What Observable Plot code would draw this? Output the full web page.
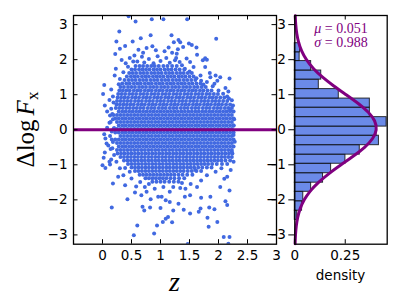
<!DOCTYPE html>
<html><head><meta charset="utf-8">
<script src="https://cdn.jsdelivr.net/npm/d3@7"></script>
<script src="https://cdn.jsdelivr.net/npm/@observablehq/plot@0.6"></script>
<style>
html,body{margin:0;padding:0;background:#fff;}
#wrap{position:relative;width:407px;height:305px;overflow:hidden;background:#fff;}
</style></head><body><div id="wrap"></div>
<script>
// ---------- data ----------
const xTicks = [0, 0.5, 1, 1.5, 2, 2.5, 3];
const xTickLabels = ["0", "0.5", "1", "1.5", "2", "2.5", "3"];
const yTicks = [-3, -2, -1, 0, 1, 2, 3];
const yTickLabels = ["\u22123", "\u22122", "\u22121", "0", "1", "2", "3"];
const densityTicks = [0, 0.25];
const densityTickLabels = ["0", "0.25"];
const fitMu = "0.051";
const fitSigma = "0.988";

// histogram bins (lower/upper edge in ΔlogF_x) and density
const binLo = [-2.57,-2.31,-2.04,-1.77,-1.51,-1.24,-0.97,-0.71,-0.44,-0.17,0.09,0.36,0.63,0.89,1.16,1.43,1.69,1.96,2.21];
const binHi = [-2.31,-2.04,-1.77,-1.51,-1.24,-0.97,-0.71,-0.44,-0.17,0.09,0.36,0.63,0.89,1.16,1.43,1.69,1.96,2.21,2.47];
const binDensity = [0.012,0.036,0.042,0.081,0.140,0.180,0.251,0.322,0.417,0.405,0.455,0.372,0.372,0.218,0.119,0.131,0.081,0.024,0.026];

// fitted gaussian curve: [ΔlogF_x, density]
const fitCurve = [[-3.25,0.0015],[-3.0,0.0034],[-2.75,0.0073],[-2.5,0.0144],[-2.25,0.0268],[-2.0,0.0468],[-1.75,0.0766],[-1.5,0.1178],[-1.25,0.1697],[-1.0,0.2293],[-0.75,0.2906],[-0.5,0.3457],[-0.25,0.3855],[0,0.4033],[0.25,0.3957],[0.5,0.3642],[0.75,0.3144],[1.0,0.2546],[1.25,0.1933],[1.5,0.1377],[1.75,0.0921],[2.0,0.0577],[2.25,0.0339],[2.5,0.0187],[2.75,0.0097],[3.0,0.0047],[3.25,0.0021]];

// dense core of the scatter: rows of [ΔlogF_x, [z, ...]]
const denseRows = [
[1.82,[0.57,0.64,0.70,0.77,0.84,0.90,0.97,1.05,1.12,1.20,1.28]],
[1.72,[0.50,0.56,0.63,0.69,0.75,0.81,0.88,0.94,1.00,1.07,1.13,1.19,1.26,1.33,1.41]],
[1.62,[0.46,0.52,0.58,0.65,0.71,0.77,0.84,0.90,0.96,1.02,1.09,1.15,1.21,1.28,1.34,1.40,1.47,1.54]],
[1.52,[0.42,0.49,0.55,0.61,0.68,0.74,0.80,0.87,0.93,0.99,1.05,1.12,1.18,1.24,1.31,1.37,1.43,1.50,1.57]],
[1.42,[0.38,0.45,0.51,0.57,0.64,0.70,0.76,0.83,0.89,0.95,1.02,1.08,1.14,1.21,1.27,1.33,1.40,1.46,1.53,1.60]],
[1.32,[0.34,0.41,0.47,0.54,0.60,0.66,0.73,0.79,0.85,0.92,0.98,1.04,1.11,1.17,1.23,1.30,1.36,1.42,1.49,1.55,1.62,1.69]],
[1.22,[0.31,0.37,0.44,0.50,0.56,0.63,0.69,0.75,0.82,0.88,0.94,1.01,1.07,1.13,1.20,1.26,1.32,1.39,1.45,1.51,1.58,1.64,1.71,1.78]],
[1.12,[0.29,0.35,0.41,0.47,0.54,0.60,0.66,0.73,0.79,0.85,0.92,0.98,1.04,1.11,1.17,1.23,1.30,1.36,1.42,1.49,1.55,1.61,1.68,1.74,1.81,1.88]],
[1.02,[0.27,0.33,0.39,0.46,0.52,0.58,0.65,0.71,0.77,0.84,0.90,0.96,1.03,1.09,1.15,1.22,1.28,1.34,1.41,1.47,1.53,1.60,1.66,1.72,1.79,1.85,1.92,1.99]],
[0.92,[0.26,0.32,0.38,0.44,0.51,0.57,0.63,0.70,0.76,0.82,0.89,0.95,1.01,1.08,1.14,1.20,1.27,1.33,1.39,1.46,1.52,1.58,1.65,1.71,1.77,1.84,1.90,1.96,2.03,2.10]],
[0.82,[0.25,0.31,0.37,0.43,0.49,0.56,0.62,0.68,0.75,0.81,0.87,0.94,1.00,1.06,1.13,1.19,1.25,1.32,1.38,1.44,1.51,1.57,1.63,1.70,1.76,1.82,1.89,1.95,2.01,2.08,2.15]],
[0.72,[0.24,0.30,0.36,0.42,0.48,0.54,0.61,0.67,0.73,0.80,0.86,0.92,0.99,1.05,1.11,1.18,1.24,1.30,1.37,1.43,1.49,1.56,1.62,1.68,1.75,1.81,1.87,1.94,2.00,2.06,2.13,2.20]],
[0.62,[0.23,0.29,0.35,0.41,0.47,0.53,0.59,0.65,0.71,0.78,0.84,0.90,0.97,1.03,1.09,1.16,1.22,1.28,1.35,1.41,1.47,1.54,1.60,1.66,1.73,1.79,1.85,1.92,1.98,2.04,2.11,2.17,2.23]],
[0.52,[0.28,0.34,0.40,0.46,0.52,0.58,0.64,0.70,0.76,0.82,0.88,0.94,1.00,1.06,1.12,1.18,1.24,1.30,1.36,1.42,1.48,1.54,1.60,1.66,1.72,1.78,1.84,1.90,1.96,2.02,2.08,2.14,2.20,2.26]],
[0.42,[0.19,0.25,0.31,0.37,0.43,0.49,0.55,0.61,0.67,0.73,0.79,0.85,0.91,0.97,1.03,1.09,1.15,1.21,1.27,1.33,1.39,1.45,1.51,1.57,1.63,1.69,1.75,1.81,1.87,1.93,1.99,2.05,2.11,2.17,2.23]],
[0.32,[0.22,0.28,0.34,0.40,0.46,0.52,0.58,0.64,0.70,0.76,0.82,0.88,0.94,1.00,1.06,1.12,1.18,1.24,1.30,1.36,1.42,1.48,1.54,1.60,1.66,1.72,1.78,1.84,1.90,1.96,2.02,2.08,2.14,2.20,2.26]],
[0.22,[0.25,0.31,0.37,0.43,0.49,0.55,0.61,0.67,0.73,0.79,0.85,0.91,0.97,1.03,1.09,1.15,1.21,1.27,1.33,1.39,1.45,1.51,1.57,1.63,1.69,1.75,1.81,1.87,1.93,1.99,2.05,2.11,2.17,2.23]],
[0.12,[0.28,0.34,0.40,0.46,0.52,0.58,0.64,0.70,0.76,0.82,0.88,0.94,1.00,1.06,1.12,1.18,1.24,1.30,1.36,1.42,1.48,1.54,1.60,1.66,1.72,1.78,1.84,1.90,1.96,2.02,2.08,2.14,2.20,2.26]],
[0.02,[0.19,0.25,0.31,0.37,0.43,0.49,0.55,0.61,0.67,0.73,0.79,0.85,0.91,0.97,1.03,1.09,1.15,1.21,1.27,1.33,1.39,1.45,1.51,1.57,1.63,1.69,1.75,1.81,1.87,1.93,1.99,2.05,2.11,2.17,2.23]],
[-0.08,[0.22,0.28,0.34,0.40,0.46,0.52,0.58,0.64,0.70,0.76,0.82,0.88,0.94,1.00,1.06,1.12,1.18,1.24,1.30,1.36,1.42,1.48,1.54,1.60,1.66,1.72,1.78,1.84,1.90,1.96,2.02,2.08,2.14,2.20,2.26]],
[-0.18,[0.31,0.37,0.43,0.49,0.55,0.61,0.67,0.73,0.79,0.85,0.91,0.97,1.03,1.09,1.15,1.21,1.27,1.33,1.39,1.45,1.51,1.57,1.63,1.69,1.75,1.81,1.87,1.93,1.99,2.05,2.11,2.17,2.23]],
[-0.28,[0.16,0.22,0.28,0.34,0.40,0.46,0.52,0.58,0.64,0.70,0.76,0.82,0.88,0.94,1.00,1.06,1.12,1.18,1.24,1.30,1.36,1.42,1.48,1.54,1.60,1.66,1.72,1.78,1.84,1.90,1.96,2.02,2.08,2.14,2.20,2.26]],
[-0.38,[0.25,0.31,0.37,0.43,0.49,0.55,0.61,0.67,0.73,0.79,0.85,0.91,0.97,1.03,1.09,1.15,1.21,1.27,1.33,1.39,1.45,1.51,1.57,1.63,1.69,1.75,1.81,1.87,1.93,1.99,2.05,2.11,2.17,2.23]],
[-0.48,[0.28,0.34,0.40,0.46,0.52,0.58,0.64,0.70,0.76,0.82,0.88,0.94,1.00,1.06,1.12,1.18,1.24,1.30,1.36,1.42,1.48,1.54,1.60,1.66,1.72,1.78,1.84,1.90,1.96,2.02,2.08,2.14,2.20,2.26]],
[-0.58,[0.25,0.31,0.37,0.43,0.49,0.55,0.61,0.67,0.73,0.79,0.85,0.91,0.97,1.03,1.09,1.15,1.21,1.27,1.33,1.39,1.45,1.51,1.57,1.63,1.69,1.75,1.81,1.87,1.93,1.99,2.05,2.11,2.17,2.23]],
[-0.68,[0.26,0.32,0.38,0.44,0.50,0.56,0.62,0.68,0.74,0.80,0.86,0.92,0.98,1.04,1.10,1.16,1.22,1.28,1.34,1.40,1.46,1.52,1.58,1.64,1.70,1.76,1.82,1.88,1.94,2.00,2.06,2.12,2.18,2.24]],
[-0.78,[0.31,0.37,0.43,0.49,0.55,0.61,0.67,0.73,0.79,0.85,0.91,0.97,1.03,1.09,1.15,1.21,1.27,1.33,1.39,1.45,1.51,1.57,1.63,1.69,1.75,1.81,1.87,1.93,1.99,2.05,2.11,2.17,2.23]],
[-0.88,[0.37,0.43,0.49,0.55,0.61,0.67,0.73,0.79,0.85,0.91,0.97,1.03,1.09,1.15,1.21,1.27,1.33,1.39,1.45,1.51,1.57,1.63,1.69,1.75,1.81,1.87,1.93,1.99,2.05,2.12,2.20]],
[-0.98,[0.44,0.50,0.56,0.62,0.68,0.74,0.80,0.86,0.92,0.98,1.04,1.10,1.16,1.22,1.28,1.34,1.40,1.46,1.52,1.58,1.64,1.70,1.76,1.82,1.89,1.97,2.06,2.15]],
[-1.08,[0.50,0.56,0.62,0.68,0.74,0.80,0.86,0.92,0.98,1.04,1.10,1.16,1.22,1.28,1.34,1.40,1.46,1.52,1.58,1.65,1.72,1.80,1.88]],
[-1.18,[0.56,0.62,0.68,0.74,0.80,0.86,0.92,0.98,1.04,1.10,1.16,1.22,1.28,1.34,1.40,1.47,1.54,1.62,1.70]],
[-1.28,[0.64,0.70,0.76,0.82,0.88,0.94,1.00,1.06,1.12,1.18,1.24,1.31,1.38,1.46,1.55]],
[-1.38,[0.74,0.80,0.86,0.92,0.98,1.04,1.10,1.17,1.24,1.32,1.41]],
[-1.48,[0.86,0.93,1.00,1.07,1.15,1.23,1.31]]
];

// individually visible scatter points outside the dense core: [z, ΔlogF_x]
const sparsePoints = [
[0.45,3.24],[0.57,3.09],[0.85,3.15],[1.05,3.15],[1.46,3.15],[1.96,2.60],[0.29,2.80],[0.24,2.52],[0.52,2.52],[0.39,2.39],[0.30,2.31],[0.66,2.61],[0.83,2.70],[0.76,2.33],[0.92,2.27],[1.07,2.24],[1.19,2.70],[0.22,2.16],[0.33,1.99],[0.55,2.12],[0.53,1.95],[0.23,1.74],[0.21,1.55],[0.03,1.28],[0.01,1.02],[0.04,0.69],[0.08,0.52],[0.13,0.41],[0.08,0.06],[1.34,2.50],[1.49,2.46],[1.23,2.50],[1.39,2.36],[1.54,2.42],[1.62,2.35],[1.31,2.56],[1.63,2.14],[1.73,1.98],[1.77,2.04],[1.80,2.00],[1.51,1.93],[1.28,2.17],[1.37,1.84],[1.57,1.79],[1.77,1.79],[1.69,1.55],[1.86,1.50],[1.95,1.55],[2.03,1.50],[2.19,1.46],[1.93,1.31],[2.12,1.19],[2.17,1.09],[1.74,1.29],[2.18,0.89],[2.23,0.84],[2.25,0.69],[2.20,0.55],[2.26,0.12],[2.27,0.30],[2.26,-0.15],
[0.40,1.90],[0.47,2.05],[0.60,1.95],[0.68,2.08],[0.72,1.92],[0.80,2.02],[0.88,1.90],[0.95,2.10],[1.00,1.96],[1.10,2.05],[1.16,1.91],[1.25,1.98],[1.33,1.93],[1.45,2.03],[1.20,2.20],[0.70,2.20],[0.44,1.80],[0.36,1.64],[0.30,1.45],[0.28,1.30],[1.42,1.74],[1.50,1.66],[1.62,1.47],[1.70,1.40],[1.80,1.36],[1.90,1.24],[2.00,1.12],[2.08,1.03],[2.15,0.95],[1.85,1.62],[1.98,1.40],[1.30,2.30],[1.27,2.05],[0.62,2.28],[0.86,2.38],[1.14,2.35],
[0.15,1.15],[0.18,0.95],[0.12,0.85],[0.19,0.78],[0.15,0.60],[0.18,0.30],[0.12,0.20],[0.16,-0.05],[0.18,-0.35],[0.10,-0.45],[0.14,-0.55],[0.20,-0.72],[0.15,-0.85],[0.03,-0.13],[0.05,-0.25],[0.04,-0.65],[0.02,-0.80],[0.00,-1.01],[0.05,-1.09],[0.13,-0.99],[0.07,-0.39],[0.17,-0.53],[0.12,-0.91],[0.24,-0.91],[0.30,-1.10],[0.39,-1.09],[0.36,-1.30],[0.47,-1.20],[0.50,-1.39],[0.65,-1.49],[0.73,-1.63],[0.90,-1.68],[1.05,-1.63],[1.16,-1.77],[0.96,-1.91],[1.22,-1.63],[0.20,0.05],[0.17,0.45],[0.14,0.22],[0.13,-0.18],
[0.18,-1.53],[0.27,-1.34],[0.39,-1.58],[0.43,-1.98],[0.16,-2.22],[0.56,-1.79],[0.67,-1.87],[0.69,-2.20],[0.72,-2.30],[0.83,-1.98],[0.82,-2.22],[0.76,-1.77],[0.60,-2.73],[0.54,-3.01],[0.89,-2.96],[0.94,-2.73],[1.00,-2.23],[1.04,-2.63],[1.13,-2.49],[1.09,-2.01],[1.16,-2.06],[1.22,-2.30],[1.02,-1.91],[1.20,-2.64],[1.09,-2.54],[1.47,-3.26],[2.09,-3.06],[2.19,-3.06],[2.17,-3.25],[1.83,-2.77],[1.98,-2.63],[1.81,-2.51],[1.51,-2.39],[1.66,-2.34],[1.69,-2.25],[1.93,-2.27],[1.84,-2.22],[1.40,-2.28],[1.31,-2.11],[1.42,-1.91],[1.51,-1.87],[1.70,-1.94],[1.86,-1.91],[2.12,-2.04],[2.15,-2.15],[2.19,-1.73],[2.03,-1.63],[2.15,-1.34],[2.21,-1.15],[2.26,-0.91],[2.23,-0.63],[2.28,-0.34],[1.60,-1.15],[1.80,-1.30],[1.63,-1.63],[1.43,-1.68],[1.37,-1.52],[1.34,-1.66],[1.95,-1.20],[2.05,-1.10],[2.10,-1.40],[1.70,-1.45],[1.52,-1.55],[0.58,-1.62],[0.80,-1.55]
];

// ---------- build tables ----------
const points = [];
for (const [dy, zs] of denseRows) for (const z of zs) points.push({z, dy});
for (const [z, dy] of sparsePoints) points.push({z, dy});
const bins = binLo.map((lo, i) => ({lo, hi: binHi[i], density: binDensity[i]}));
const curve = fitCurve.map(([dy, pdf]) => ({dy, pdf}));
const xLab = new Map(xTicks.map((t, i) => [t, xTickLabels[i]]));
const yLab = new Map(yTicks.map((t, i) => [t, yTickLabels[i]]));
const dLab = new Map(densityTicks.map((t, i) => [t, densityTickLabels[i]]));

// ---------- layout ----------
const H = 305, mT = 15, mB = 61.3;
const innerH = H - mT - mB;
const W1 = 285, mL1 = 73, mR1 = 9, innerW1 = W1 - mL1 - mR1;
const W2 = 122, mL2 = 9.3, mR2 = 20.3;
const tickLen = 4.5;
const yDomain = [-3.265, 3.26];
const baseStyle = {fontFamily: "'DejaVu Sans', sans-serif", fontSize: "13.5px", background: "transparent", overflow: "visible", color: "black"};

const scatter = Plot.plot({
  width: W1, height: H, marginTop: mT, marginBottom: mB, marginLeft: mL1, marginRight: mR1,
  style: baseStyle,
  x: {domain: [-0.5, 3]},
  y: {domain: yDomain},
  marks: [
    Plot.dot(points, {x: "z", y: "dy", r: 2, fill: "#4169e1", clip: true}),
    Plot.ruleY([0], {stroke: "purple", strokeWidth: 3}),
    Plot.tickX(xTicks, {x: d => d, insetTop: innerH - tickLen, strokeWidth: 1}),
    Plot.tickX(xTicks, {x: d => d, insetBottom: innerH - tickLen, strokeWidth: 1}),
    Plot.tickY(yTicks, {y: d => d, insetRight: innerW1 - tickLen, strokeWidth: 1}),
    Plot.tickY(yTicks, {y: d => d, insetLeft: innerW1 - tickLen, strokeWidth: 1}),
    Plot.frame({stroke: "black", strokeWidth: 1.3}),
    Plot.axisX(xTicks, {tickSize: 0, tickPadding: 6, tickFormat: d => xLab.get(d), label: null}),
    Plot.axisY(yTicks, {tickSize: 0, tickPadding: 6, tickFormat: d => yLab.get(d), label: null})
  ]
});

const hist = Plot.plot({
  width: W2, height: H, marginTop: mT, marginBottom: mB, marginLeft: mL2, marginRight: mR2,
  style: baseStyle,
  x: {domain: [0, 0.458]},
  y: {domain: yDomain},
  marks: [
    Plot.rect(bins, {x1: 0, x2: "density", y1: "lo", y2: "hi", fill: "#4169e1", fillOpacity: 0.78, stroke: "#111", strokeOpacity: 0.85, strokeWidth: 1}),
    Plot.line(curve, {x: "pdf", y: "dy", stroke: "purple", strokeWidth: 3, curve: "natural"}),
    Plot.tickX(densityTicks, {x: d => d, insetTop: innerH - tickLen, strokeWidth: 1}),
    Plot.tickX(densityTicks, {x: d => d, insetBottom: innerH - tickLen, strokeWidth: 1}),
    Plot.frame({stroke: "black", strokeWidth: 1.3}),
    Plot.axisX(densityTicks, {tickSize: 0, tickPadding: 6, tickFormat: d => dLab.get(d), label: null})
  ]
});

const wrap = document.getElementById("wrap");
scatter.style.position = "absolute"; scatter.style.left = "0px"; scatter.style.top = "0px";
hist.style.position = "absolute"; hist.style.left = W1 + "px"; hist.style.top = "0px";
wrap.appendChild(scatter);
wrap.appendChild(hist);

// ---------- labels ----------
const ov = d3.create("svg").attr("width", 407).attr("height", 305)
  .style("position", "absolute").style("left", "0px").style("top", "0px").style("pointer-events", "none");
const serif = "'Liberation Serif', 'DejaVu Serif', serif";
const yl = ov.append("text").attr("transform", "translate(34,129.5) rotate(-90)")
  .attr("text-anchor", "middle").attr("font-family", serif).attr("font-size", 25).attr("fill", "black");
yl.append("tspan").text("\u0394log");
yl.append("tspan").attr("dx", 4).attr("font-style", "italic").text("F");
yl.append("tspan").attr("font-size", 17).attr("dy", 4).text("x");
ov.append("text").attr("x", 174.5).attr("y", 291).attr("text-anchor", "middle")
  .attr("font-family", serif).attr("font-style", "italic").attr("font-size", 28).text("z");
ov.append("text").attr("x", 340.5).attr("y", 280).attr("text-anchor", "middle")
  .attr("font-family", "'DejaVu Sans', sans-serif").attr("font-size", 13.5).text("density");
const m1 = ov.append("text").attr("x", 341).attr("y", 32.5).attr("text-anchor", "middle")
  .attr("font-family", serif).attr("font-size", 14).attr("fill", "purple");
m1.append("tspan").attr("font-style", "italic").text("\u03bc");
m1.append("tspan").text(" = " + fitMu);
const m2 = ov.append("text").attr("x", 341).attr("y", 47).attr("text-anchor", "middle")
  .attr("font-family", serif).attr("font-size", 14).attr("fill", "purple");
m2.append("tspan").attr("font-style", "italic").text("\u03c3");
m2.append("tspan").text(" = " + fitSigma);
wrap.appendChild(ov.node());
</script></body></html>
